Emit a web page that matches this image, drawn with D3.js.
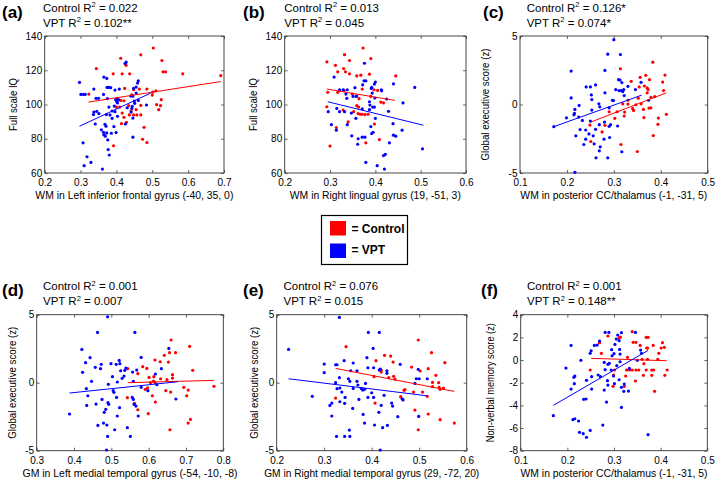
<!DOCTYPE html>
<html>
<head>
<meta charset="utf-8">
<script src="https://cdn.jsdelivr.net/npm/d3@7"></script>
<style>
  body { margin: 0; background: #fff; }
  svg text { font-family: "Liberation Sans", Arial, sans-serif; }
</style>
</head>
<body>
<svg id="chart" width="716" height="481"></svg>
<script>
// values: [x, y] per subject
var aControl = [[0.344,121.0],[0.412,127.0],[0.427,122.9],[0.391,117.9],[0.416,117.9],[0.437,117.9],[0.468,129.0],[0.503,133.0],[0.527,125.7],[0.530,119.1],[0.537,119.1],[0.585,117.9],[0.691,116.9],[0.323,106.1],[0.423,109.4],[0.448,108.6],[0.464,109.0],[0.485,109.0],[0.501,107.2],[0.510,108.0],[0.500,105.5],[0.443,105.7],[0.402,103.6],[0.412,102.4],[0.421,102.2],[0.400,98.5],[0.409,98.5],[0.434,99.3],[0.455,97.0],[0.468,99.5],[0.512,99.9],[0.525,102.8],[0.523,99.3],[0.518,97.0],[0.441,96.2],[0.436,93.9],[0.448,93.9],[0.457,93.9],[0.468,93.9],[0.416,95.0],[0.421,92.5],[0.414,88.8],[0.428,89.6],[0.477,86.7],[0.473,79.7],[0.485,77.8],[0.392,75.9]];
var aVpt = [[0.297,112.9],[0.301,105.9],[0.308,105.9],[0.313,105.9],[0.337,109.0],[0.343,103.6],[0.350,103.6],[0.365,116.0],[0.373,115.2],[0.374,110.0],[0.378,110.0],[0.384,109.8],[0.364,105.9],[0.375,103.4],[0.396,108.4],[0.408,109.0],[0.398,102.8],[0.406,102.8],[0.401,101.8],[0.403,100.9],[0.394,99.1],[0.379,98.5],[0.388,96.2],[0.396,95.8],[0.337,95.6],[0.336,94.1],[0.351,94.7],[0.345,96.0],[0.372,94.1],[0.382,93.9],[0.403,93.1],[0.388,91.9],[0.341,88.6],[0.368,88.4],[0.371,87.3],[0.393,87.1],[0.358,85.2],[0.364,83.8],[0.373,83.4],[0.365,82.4],[0.369,81.5],[0.386,83.2],[0.399,83.6],[0.425,88.6],[0.446,92.1],[0.441,95.6],[0.443,97.6],[0.430,98.1],[0.444,98.9],[0.451,100.7],[0.450,102.0],[0.461,102.4],[0.440,104.9],[0.446,104.9],[0.455,106.7],[0.448,109.4],[0.459,112.5],[0.455,110.2],[0.461,113.8],[0.424,123.9],[0.427,124.7],[0.484,99.7],[0.446,80.9],[0.307,77.6],[0.376,79.3],[0.377,73.7],[0.318,69.5],[0.380,70.5],[0.329,66.2],[0.310,64.3],[0.361,62.3]];
var aControlFit = [[0.322,101.4],[0.691,113.4]];
var aVptFit = [[0.297,87.3],[0.496,106.7]];

var bControl = [[0.293,124.9],[0.312,122.9],[0.332,129.1],[0.343,125.7],[0.317,119.1],[0.330,121.0],[0.334,119.1],[0.343,117.9],[0.359,116.7],[0.368,117.1],[0.373,133.0],[0.390,126.8],[0.387,117.7],[0.445,116.7],[0.295,107.1],[0.317,107.1],[0.331,108.2],[0.349,106.1],[0.359,105.1],[0.364,103.4],[0.371,109.0],[0.390,104.7],[0.397,108.6],[0.405,108.2],[0.412,101.4],[0.418,100.9],[0.293,98.7],[0.359,99.3],[0.363,98.5],[0.352,95.8],[0.362,94.7],[0.367,94.3],[0.371,94.3],[0.377,94.1],[0.384,94.3],[0.329,96.8],[0.340,89.8],[0.398,88.6],[0.314,86.5],[0.379,77.6],[0.409,79.5],[0.300,75.7]];
var bVpt = [[0.309,116.0],[0.321,108.6],[0.329,108.6],[0.338,108.6],[0.335,106.1],[0.337,103.6],[0.351,104.7],[0.358,104.7],[0.355,109.8],[0.375,113.8],[0.379,113.8],[0.376,124.1],[0.372,111.5],[0.391,109.4],[0.392,110.0],[0.398,111.9],[0.400,113.1],[0.413,108.6],[0.414,108.0],[0.393,106.7],[0.399,103.8],[0.388,99.7],[0.394,98.5],[0.398,98.5],[0.387,101.6],[0.425,103.2],[0.440,112.1],[0.461,100.9],[0.487,110.0],[0.296,95.8],[0.321,95.8],[0.332,95.8],[0.315,97.7],[0.347,95.0],[0.357,91.9],[0.371,97.4],[0.387,97.0],[0.400,91.9],[0.429,96.0],[0.303,88.2],[0.314,85.0],[0.338,88.2],[0.348,81.7],[0.362,80.0],[0.371,80.9],[0.377,80.9],[0.361,76.8],[0.392,83.0],[0.395,83.8],[0.390,87.1],[0.431,77.6],[0.440,82.1],[0.445,81.5],[0.459,85.0],[0.439,88.8],[0.504,74.1],[0.418,70.2],[0.422,70.9],[0.379,66.2],[0.404,64.3],[0.420,62.3]];
var bControlFit = [[0.293,109.0],[0.443,102.4]];
var bVptFit = [[0.295,101.6],[0.506,87.9]];

var cControl = [[0.383,3.09],[0.314,2.61],[0.356,1.98],[0.368,2.13],[0.409,2.15],[0.337,1.69],[0.376,1.81],[0.404,1.64],[0.365,1.35],[0.354,1.28],[0.371,1.21],[0.406,1.02],[0.371,0.85],[0.373,1.09],[0.379,0.53],[0.387,0.58],[0.352,0.46],[0.330,0.31],[0.319,0.05],[0.330,0.03],[0.347,-0.02],[0.358,0.05],[0.340,-0.29],[0.342,-0.43],[0.363,-0.36],[0.375,-0.26],[0.379,-0.24],[0.307,-0.53],[0.323,-0.55],[0.290,-0.53],[0.322,-0.84],[0.302,-1.01],[0.395,-0.99],[0.412,-0.72],[0.364,-0.96],[0.249,-1.50],[0.281,-1.52],[0.275,-2.00],[0.394,-1.45],[0.384,-2.27],[0.251,-2.70],[0.315,-2.92],[0.350,-3.43]];
var cVpt = [[0.300,4.73],[0.287,3.67],[0.314,3.65],[0.281,2.49],[0.209,2.44],[0.310,1.81],[0.313,1.79],[0.317,1.60],[0.241,1.28],[0.250,1.28],[0.261,1.43],[0.330,1.33],[0.304,1.09],[0.311,1.02],[0.316,1.02],[0.319,0.94],[0.321,1.09],[0.346,1.09],[0.252,0.70],[0.281,0.85],[0.209,0.48],[0.253,0.36],[0.297,0.31],[0.299,0.29],[0.322,0.65],[0.268,0.05],[0.270,-0.17],[0.226,-0.07],[0.217,-0.36],[0.216,-0.65],[0.215,-0.75],[0.199,-0.97],[0.225,-0.92],[0.253,-0.41],[0.290,-0.24],[0.233,-1.16],[0.250,-1.21],[0.280,-1.28],[0.269,-1.47],[0.293,-1.47],[0.290,-1.59],[0.308,-1.57],[0.228,-1.83],[0.240,-1.86],[0.261,-1.81],[0.219,-2.29],[0.247,-2.15],[0.256,-2.29],[0.279,-2.53],[0.291,-2.41],[0.240,-2.53],[0.236,-2.92],[0.258,-2.87],[0.271,-3.09],[0.269,-3.38],[0.317,-3.45],[0.172,-1.62],[0.262,-3.89],[0.287,-3.89],[0.374,0.31],[0.358,1.62],[0.217,-4.95]];
var cControlFit = [[0.251,-1.28],[0.412,0.85]];
var cVptFit = [[0.172,-1.62],[0.359,0.68]];

var dControl = [[0.660,3.14],[0.710,2.67],[0.656,2.21],[0.672,2.21],[0.642,2.01],[0.617,1.67],[0.631,1.54],[0.653,1.52],[0.584,1.18],[0.595,1.05],[0.544,1.03],[0.718,0.91],[0.571,0.66],[0.601,0.39],[0.614,0.44],[0.632,0.29],[0.664,0.59],[0.664,0.34],[0.649,0.22],[0.613,0.12],[0.605,0.00],[0.597,-0.37],[0.591,-0.49],[0.617,0.02],[0.646,-0.59],[0.659,-0.69],[0.694,-0.34],[0.706,-0.54],[0.702,-0.96],[0.775,-0.27],[0.543,-1.10],[0.610,-0.96],[0.618,-1.42],[0.562,-1.52],[0.571,-1.99],[0.599,-2.28],[0.712,-2.70],[0.706,-2.97],[0.657,-3.46]];
var dVpt = [[0.490,4.85],[0.463,3.70],[0.563,3.70],[0.421,2.45],[0.443,1.84],[0.431,1.47],[0.457,1.13],[0.473,1.35],[0.471,1.03],[0.499,1.40],[0.513,1.35],[0.521,1.64],[0.523,1.40],[0.539,1.08],[0.536,0.91],[0.423,0.76],[0.525,0.88],[0.568,0.93],[0.557,0.78],[0.580,1.86],[0.503,0.44],[0.534,0.49],[0.529,0.32],[0.447,0.10],[0.516,0.05],[0.559,0.10],[0.492,-0.12],[0.505,-0.59],[0.507,-0.71],[0.433,-0.44],[0.437,-0.96],[0.580,-0.34],[0.598,-0.59],[0.622,-0.15],[0.618,0.64],[0.634,1.03],[0.654,2.52],[0.475,-1.23],[0.459,-1.57],[0.434,-1.67],[0.514,-1.08],[0.491,-1.47],[0.493,-1.59],[0.522,-1.84],[0.556,-1.08],[0.559,-1.23],[0.561,-1.59],[0.566,-1.72],[0.572,-2.45],[0.481,-2.18],[0.485,-1.96],[0.516,-2.45],[0.388,-2.30],[0.464,-3.14],[0.479,-2.97],[0.488,-3.11],[0.509,-3.46],[0.543,-3.31],[0.490,-3.95],[0.551,-3.95],[0.487,-4.95],[0.673,-1.20]];
var dControlFit = [[0.544,0.00],[0.775,0.17]];
var dVptFit = [[0.388,-0.76],[0.678,0.07]];

var eControl = [[0.498,3.14],[0.346,2.65],[0.440,1.96],[0.427,2.01],[0.409,1.62],[0.445,1.52],[0.526,2.21],[0.554,1.47],[0.484,1.15],[0.502,0.86],[0.519,1.03],[0.420,0.93],[0.420,0.78],[0.436,0.37],[0.446,0.47],[0.449,0.27],[0.405,0.44],[0.535,0.54],[0.528,0.02],[0.541,0.00],[0.528,-0.29],[0.542,-0.34],[0.544,-0.49],[0.551,-0.39],[0.507,-0.69],[0.488,-0.69],[0.468,-0.56],[0.470,-0.51],[0.461,-1.03],[0.517,-1.00],[0.407,-1.50],[0.324,-1.13],[0.491,-2.01],[0.519,-2.30],[0.544,-2.72],[0.498,-3.46],[0.574,-2.97]];
var eVpt = [[0.332,4.80],[0.393,3.70],[0.416,3.70],[0.225,2.45],[0.403,2.52],[0.300,1.37],[0.324,1.32],[0.327,1.32],[0.342,1.62],[0.361,1.45],[0.390,1.84],[0.404,1.10],[0.392,1.10],[0.416,0.93],[0.418,1.00],[0.300,0.74],[0.356,0.88],[0.369,0.88],[0.351,0.29],[0.324,0.00],[0.332,0.37],[0.333,-0.39],[0.327,-0.44],[0.337,-0.69],[0.354,0.10],[0.369,0.10],[0.371,-0.17],[0.378,-0.42],[0.381,-0.54],[0.385,-0.49],[0.361,-0.42],[0.387,-0.05],[0.400,-0.74],[0.404,-1.08],[0.392,-1.08],[0.373,-1.23],[0.344,-1.08],[0.343,-1.52],[0.333,-1.40],[0.316,-1.50],[0.312,-1.67],[0.360,-1.89],[0.382,-2.33],[0.415,-2.18],[0.426,-0.93],[0.442,-1.50],[0.444,-1.72],[0.464,-1.18],[0.466,-1.27],[0.420,-1.67],[0.455,-2.50],[0.499,-2.48],[0.433,-3.14],[0.423,-3.31],[0.406,-3.11],[0.385,-2.97],[0.353,-3.48],[0.343,-3.95],[0.354,-3.95],[0.326,-3.95],[0.418,-4.95],[0.316,-2.45],[0.275,-1.00],[0.460,1.35],[0.432,0.88],[0.432,0.69],[0.491,-0.05],[0.494,0.29],[0.500,0.29],[0.517,0.29],[0.498,0.98]];
var eControlFit = [[0.324,1.05],[0.574,-0.64]];
var eVptFit = [[0.225,0.29],[0.516,-0.96]];

var fControl = [[0.339,2.50],[0.314,2.03],[0.269,1.53],[0.273,0.59],[0.287,2.12],[0.311,1.97],[0.341,1.56],[0.347,1.56],[0.356,1.29],[0.369,2.00],[0.373,2.00],[0.370,1.06],[0.372,1.06],[0.384,1.29],[0.396,0.59],[0.404,1.53],[0.408,1.12],[0.401,1.06],[0.372,0.06],[0.364,-0.32],[0.360,0.06],[0.394,0.06],[0.329,0.24],[0.249,-0.88],[0.301,-0.88],[0.327,-0.88],[0.333,-0.88],[0.339,-0.88],[0.347,-0.88],[0.353,-0.88],[0.369,-0.88],[0.381,-0.88],[0.385,-0.88],[0.414,-0.88],[0.299,-1.32],[0.325,-1.41],[0.363,-1.35],[0.381,-1.35],[0.409,-1.35],[0.298,-2.32],[0.322,-2.32],[0.346,-1.85],[0.387,-2.76]];
var fVpt = [[0.170,-4.91],[0.197,-0.71],[0.208,1.29],[0.208,-2.56],[0.216,-1.41],[0.214,-1.53],[0.215,-2.09],[0.229,-0.03],[0.212,-5.26],[0.216,-5.18],[0.224,-5.38],[0.226,-6.38],[0.234,-6.50],[0.241,-6.82],[0.249,-6.21],[0.235,-3.47],[0.240,-3.44],[0.241,-1.79],[0.251,0.82],[0.249,0.59],[0.258,1.29],[0.264,1.32],[0.269,1.68],[0.252,-2.56],[0.252,-1.47],[0.266,-1.32],[0.271,-1.47],[0.279,-2.65],[0.281,2.44],[0.289,2.44],[0.276,-5.74],[0.279,-0.21],[0.281,-0.85],[0.284,-3.71],[0.287,-0.38],[0.290,-0.29],[0.286,-1.82],[0.287,-2.21],[0.294,-0.88],[0.296,0.38],[0.295,0.91],[0.300,0.56],[0.302,1.38],[0.305,1.85],[0.308,2.21],[0.311,1.71],[0.312,0.94],[0.313,0.53],[0.316,2.41],[0.299,-1.41],[0.301,-2.09],[0.306,-0.50],[0.311,-1.74],[0.316,-2.41],[0.322,-2.12],[0.321,-2.76],[0.316,-4.18],[0.331,-2.74],[0.333,-0.74],[0.346,2.44],[0.350,-0.03],[0.357,0.88],[0.359,0.59],[0.373,-6.59],[0.313,-0.15]];
var fControlFit = [[0.251,0.15],[0.413,-0.06]];
var fVptFit = [[0.170,-4.00],[0.373,0.85]];

// tick values
var iqTicks = [60, 80, 100, 120, 140];
var execTicks = [-5, 0, 5];
var memTicks = [-8, -6, -4, -2, 0, 2, 4];
var xTicksA = [0.2, 0.3, 0.4, 0.5, 0.6, 0.7];
var xTicksB = [0.2, 0.3, 0.4, 0.5, 0.6];
var xTicksC = [0.1, 0.2, 0.3, 0.4, 0.5];
var xTicksD = [0.3, 0.4, 0.5, 0.6, 0.7, 0.8];

var panelLetters = ['(a)', '(b)', '(c)', '(d)', '(e)', '(f)'];
var controlR2 = ['0.022', '0.013', '0.126*', '0.001', '0.076', '0.001'];
var vptR2 = ['0.102**', '0.045', '0.074*', '0.007', '0.015', '0.148**'];
var xLabels = ['WM in Left inferior frontal gyrus (-40, 35, 0)', 'WM in Right lingual gyrus (19, -51, 3)',
  'WM in posterior CC/thalamus (-1, -31, 5)', 'GM in Left medial temporal gyrus (-54, -10, -8)',
  'GM in Right medial temporal gyrus (29, -72, 20)', 'WM in posterior CC/thalamus (-1, -31, 5)'];
var yLabels = ['Full scale IQ', 'Full scale IQ', 'Global executive score (z)', 'Global executive score (z)',
  'Global executive score (z)', 'Non-verbal memory score (z)'];
var legendLabels = ['= Control', '= VPT'];
var groupColors = ['#ff0000', '#0000ff'];

var svg = d3.select('#chart');

// layout of each axes box (left, top, right, bottom) + text widths
var panels = [
  {box: [44.7, 36, 224, 173], xt: xTicksA, yt: iqTicks, ctrl: aControl, vpt: aVpt, cf: aControlFit, vf: aVptFit, lx: 2, tx: 43, xlw: 198, ylx: 17, ylw: 53},
  {box: [284.7, 36, 466, 173], xt: xTicksB, yt: iqTicks, ctrl: bControl, vpt: bVpt, cf: bControlFit, vf: bVptFit, lx: 243, tx: 284.3, xlw: 171, ylx: 257, ylw: 53},
  {box: [520, 36, 707.7, 173], xt: xTicksC, yt: execTicks, ctrl: cControl, vpt: cVpt, cf: cControlFit, vf: cVptFit, lx: 483, tx: 526.7, xlw: 187, ylx: 489, ylw: 112},
  {box: [36.7, 314.7, 223.3, 450.7], xt: xTicksD, yt: execTicks, ctrl: dControl, vpt: dVpt, cf: dControlFit, vf: dVptFit, lx: 2, tx: 43, xlw: 215, ylx: 16, ylw: 112},
  {box: [276.7, 314.7, 466.7, 450.7], xt: xTicksB, yt: execTicks, ctrl: eControl, vpt: eVpt, cf: eControlFit, vf: eVptFit, lx: 243, tx: 283.5, xlw: 215, ylx: 258, ylw: 112},
  {box: [520.7, 314.7, 707.3, 450.7], xt: xTicksC, yt: memTicks, ctrl: fControl, vpt: fVpt, cf: fControlFit, vf: fVptFit, lx: 481, tx: 527, xlw: 187, ylx: 494, ylw: 119}
];

panels.forEach(function(p, i) {
  var l = p.box[0], t = p.box[1], r = p.box[2], b = p.box[3];
  var x = d3.scaleLinear().domain(d3.extent(p.xt)).range([l, r]);
  var y = d3.scaleLinear().domain(d3.extent(p.yt)).range([b, t]);
  var g = svg.append('g').attr('class', 'panel');
  var rowTop = i < 3 ? 0 : 278.5;

  // axes
  g.append('g').attr('transform', 'translate(0,' + b + ')')
    .call(d3.axisBottom(x).tickValues(p.xt).tickSizeInner(-3).tickSizeOuter(0).tickPadding(6)
      .tickFormat(function(d) { return d.toFixed(1); }));
  g.append('g').attr('transform', 'translate(' + l + ',0)')
    .call(d3.axisLeft(y).tickValues(p.yt).tickSizeInner(-3).tickSizeOuter(0).tickPadding(2.5)
      .tickFormat(function(d) { return String(d); }));
  g.append('g').attr('transform', 'translate(0,' + t + ')')
    .call(d3.axisTop(x).tickValues(p.xt).tickSizeInner(-3).tickSizeOuter(0).tickFormat(''));
  g.append('g').attr('transform', 'translate(' + r + ',0)')
    .call(d3.axisRight(y).tickValues(p.yt).tickSizeInner(-3).tickSizeOuter(0).tickFormat(''));
  g.selectAll('.domain').remove();
  g.selectAll('.tick line').attr('stroke', '#444').attr('stroke-width', 0.8);
  g.selectAll('.tick text').attr('font-size', 10).attr('fill', '#000')
    .attr('font-family', '"Liberation Sans", Arial, sans-serif');

  g.append('rect')
    .attr('x', l).attr('y', t).attr('width', r - l).attr('height', b - t)
    .attr('fill', 'none').attr('stroke', '#333').attr('stroke-width', 0.9);

  // points
  [p.ctrl, p.vpt].forEach(function(pts, k) {
    g.append('g').selectAll('circle').data(pts).enter().append('circle')
      .attr('cx', function(d) { return x(d[0]); })
      .attr('cy', function(d) { return y(d[1]); })
      .attr('r', 1.6)
      .attr('fill', groupColors[k]);
  });

  // fit lines
  [p.cf, p.vf].forEach(function(fit, k) {
    g.append('line')
      .attr('x1', x(fit[0][0])).attr('y1', y(fit[0][1]))
      .attr('x2', x(fit[1][0])).attr('y2', y(fit[1][1]))
      .attr('stroke', groupColors[k]).attr('stroke-width', 1);
  });

  // axis labels
  g.append('text')
    .attr('x', (l + r) / 2).attr('y', b + 26)
    .attr('text-anchor', 'middle').attr('font-size', 10)
    .attr('textLength', p.xlw).attr('lengthAdjust', 'spacingAndGlyphs')
    .text(xLabels[i]);
  g.append('text')
    .attr('transform', 'translate(' + p.ylx + ',' + ((t + b) / 2) + ') rotate(-90)')
    .attr('text-anchor', 'middle').attr('font-size', 10)
    .attr('textLength', p.ylw).attr('lengthAdjust', 'spacingAndGlyphs')
    .text(yLabels[i]);

  // panel letter and R2 lines
  g.append('text')
    .attr('x', p.lx).attr('y', rowTop + 17.5)
    .attr('font-family', 'Lato, "Open Sans", sans-serif')
    .attr('font-weight', 'bold').attr('font-size', 17)
    .text(panelLetters[i]);
  [['Control R', controlR2[i]], ['VPT R', vptR2[i]]].forEach(function(s, k) {
    var txt = g.append('text')
      .attr('x', p.tx).attr('y', rowTop + 11.5 + k * 15)
      .attr('font-family', 'Lato, "Open Sans", sans-serif').attr('font-size', 11.5)
      .attr('fill', '#000');
    txt.append('tspan').text(s[0]);
    txt.append('tspan').attr('dy', -4.5).attr('font-size', 7.5).text('2');
    txt.append('tspan').attr('dy', 4.5).text(' = ' + s[1]);
  });
});

// legend
var legend = svg.append('g');
legend.append('rect')
  .attr('x', 321.5).attr('y', 215.5).attr('width', 86).attr('height', 49)
  .attr('fill', '#fff').attr('stroke', '#000').attr('stroke-width', 1.2);
legendLabels.forEach(function(lab, k) {
  legend.append('rect')
    .attr('x', 330).attr('y', 221 + k * 22.5).attr('width', 16).attr('height', 14.5)
    .attr('fill', groupColors[k]);
  legend.append('text')
    .attr('x', 351.5).attr('y', 232.5 + k * 21.5)
    .attr('font-family', 'Lato, "Open Sans", sans-serif')
    .attr('font-weight', 'bold').attr('font-size', 12)
    .text(lab);
});
</script>
</body>
</html>
